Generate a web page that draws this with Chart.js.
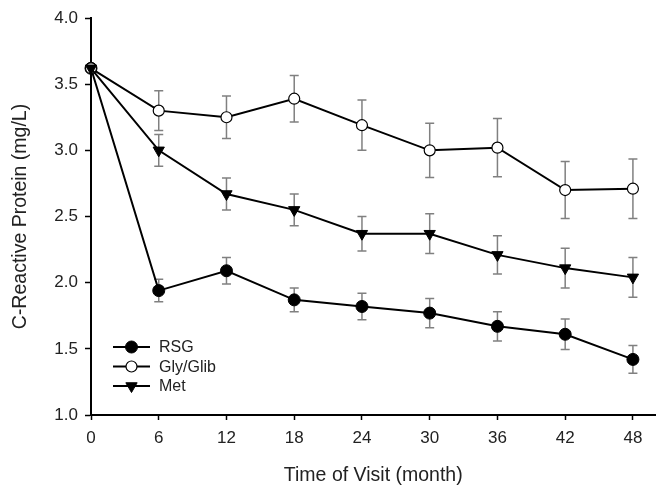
<!DOCTYPE html>
<html>
<head>
<meta charset="utf-8">
<script src="https://cdn.jsdelivr.net/npm/chart.js@4/dist/chart.umd.min.js"></script>
<style>
  html, body { margin: 0; padding: 0; background: #ffffff; }
  #wrap { width: 663px; height: 488px; position: relative; }
</style>
</head>
<body>
<div id="wrap"><canvas id="c" width="663" height="488"></canvas></div>
<script>
const months = [0, 6, 12, 18, 24, 30, 36, 42, 48];
const rsg = [3.62, 1.94, 2.09, 1.87, 1.82, 1.77, 1.67, 1.61, 1.42];
const rsgErr = [0, 0.085, 0.10, 0.09, 0.10, 0.11, 0.11, 0.115, 0.105];
const gly = [3.62, 3.30, 3.25, 3.39, 3.19, 3.00, 3.02, 2.70, 2.71];
const glyErr = [0, 0.15, 0.16, 0.175, 0.19, 0.205, 0.22, 0.215, 0.225];
const met = [3.62, 3.00, 2.67, 2.55, 2.37, 2.37, 2.21, 2.11, 2.04];
const metErr = [0, 0.12, 0.12, 0.12, 0.13, 0.15, 0.145, 0.15, 0.15];
const xTicks = [0, 6, 12, 18, 24, 30, 36, 42, 48];
const yTicks = [1.0, 1.5, 2.0, 2.5, 3.0, 3.5, 4.0];
const seriesNames = ['RSG', 'Gly/Glib', 'Met'];

const FONT = "'Liberation Sans', Arial, Helvetica, sans-serif";
const TEXT = '#222222';

function pts(vals) { return months.map((m, i) => ({ x: m, y: vals[i] })); }

const errorBars = {
  id: 'errorBars',
  beforeDatasetsDraw(chart) {
    const ctx = chart.ctx, xs = chart.scales.x, ys = chart.scales.y;
    ctx.save();
    ctx.strokeStyle = '#808080';
    ctx.lineWidth = 1.5;
    chart.data.datasets.forEach(ds => {
      ds.data.forEach((p, i) => {
        const e = ds.errors[i];
        if (!e) return;
        const px = xs.getPixelForValue(p.x);
        const top = ys.getPixelForValue(p.y + e);
        const bot = ys.getPixelForValue(p.y - e);
        ctx.beginPath();
        ctx.moveTo(px, top); ctx.lineTo(px, bot);
        ctx.moveTo(px - 4.5, top); ctx.lineTo(px + 4.5, top);
        ctx.moveTo(px - 4.5, bot); ctx.lineTo(px + 4.5, bot);
        ctx.stroke();
      });
    });
    ctx.restore();
  }
};

const legendBox = {
  id: 'legendBox',
  afterDatasetsDraw(chart) {
    const ctx = chart.ctx, a = chart.chartArea;
    const x0 = a.left + 22, x1 = a.left + 59, tx = a.left + 68;
    const rows = { 'RSG': a.bottom - 68, 'Gly/Glib': a.bottom - 48.5, 'Met': a.bottom - 29 };
    ctx.save();
    seriesNames.forEach(name => {
      const ds = chart.data.datasets.find(d => d.label === name);
      const y = rows[name];
      const cx = (x0 + x1) / 2;
      ctx.strokeStyle = '#000'; ctx.lineWidth = 2;
      ctx.beginPath(); ctx.moveTo(x0, y); ctx.lineTo(x1, y); ctx.stroke();
      ctx.fillStyle = ds.pointBackgroundColor;
      ctx.strokeStyle = ds.pointBorderColor;
      ctx.lineWidth = ds.pointBorderWidth;
      ctx.beginPath();
      if (ds.pointStyle === 'circle') {
        ctx.arc(cx, y, ds.pointRadius, 0, Math.PI * 2);
      } else {
        const r = ds.pointRadius;
        ctx.moveTo(cx - r * 0.87, y - r * 0.5); ctx.lineTo(cx + r * 0.87, y - r * 0.5); ctx.lineTo(cx, y + r); ctx.closePath();
      }
      ctx.fill(); ctx.stroke();
      ctx.fillStyle = TEXT;
      ctx.font = '16px ' + FONT;
      ctx.textBaseline = 'middle';
      ctx.textAlign = 'left';
      ctx.fillText(name, tx, y + 1);
    });
    ctx.restore();
  }
};

new Chart(document.getElementById('c'), {
  type: 'line',
  data: {
    datasets: [
      { label: seriesNames[2], data: pts(met), errors: metErr, clip: false,
        borderColor: '#000', borderWidth: 2, pointStyle: 'triangle', pointRadius: 6.5, pointRotation: 180,
        pointBackgroundColor: '#000', pointBorderColor: '#000', pointBorderWidth: 1 },
      { label: seriesNames[1], data: pts(gly), errors: glyErr, clip: false,
        borderColor: '#000', borderWidth: 2, pointStyle: 'circle', pointRadius: 5.5,
        pointBackgroundColor: '#fff', pointBorderColor: '#000', pointBorderWidth: 1.2 },
      { label: seriesNames[0], data: pts(rsg), errors: rsgErr, clip: false,
        borderColor: '#000', borderWidth: 2, pointStyle: 'circle', pointRadius: 6,
        pointBackgroundColor: '#000', pointBorderColor: '#000', pointBorderWidth: 1 }
    ]
  },
  options: {
    responsive: false,
    animation: false,
    events: [],
    layout: { padding: { top: 18, right: 1, left: 0, bottom: 0 } },
    plugins: { legend: { display: false }, tooltip: { enabled: false }, title: { display: false } },
    scales: {
      x: {
        type: 'linear', min: 0, max: 50,
        afterBuildTicks: s => { s.ticks = xTicks.map(v => ({ value: v })); },
        afterFit: s => { s.height = 73; },
        border: { display: true, color: '#000', width: 2, z: 1 },
        grid: { display: true, drawOnChartArea: false, drawTicks: true, tickLength: 5, color: '#000', tickWidth: 1.5 },
        ticks: { color: TEXT, font: { family: FONT, size: 17 }, padding: 8, maxRotation: 0, autoSkip: false },
        title: { display: true, text: 'Time of Visit (month)', color: TEXT, font: { family: FONT, size: 19.5 }, padding: { top: 0, bottom: 1 } }
      },
      y: {
        type: 'linear', min: 1.0, max: 4.0,
        afterBuildTicks: s => { s.ticks = yTicks.map(v => ({ value: v })); },
        afterFit: s => { s.width = 91; },
        border: { display: true, color: '#000', width: 2 },
        grid: { display: true, drawOnChartArea: false, drawTicks: true, tickLength: 6, color: '#000', tickWidth: 1.5 },
        ticks: { color: TEXT, font: { family: FONT, size: 17 }, padding: 7, callback: v => Number(v).toFixed(1) },
        title: { display: true, text: 'C-Reactive Protein (mg/L)', color: TEXT, font: { family: FONT, size: 19.5 }, padding: { top: 9, bottom: 0 } }
      }
    }
  },
  plugins: [errorBars, legendBox]
});
</script>
</body>
</html>
